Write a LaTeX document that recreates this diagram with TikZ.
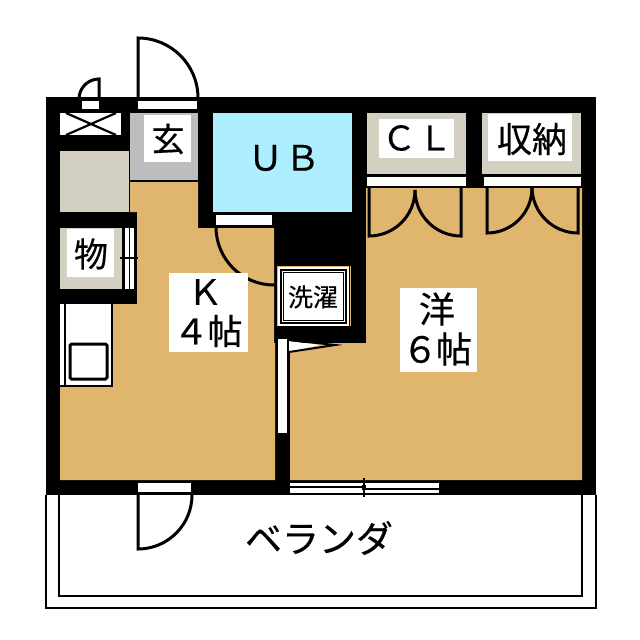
\documentclass[tikz,border=0pt]{standalone}
\usepackage{fontspec}
\setmainfont[FakeBold=0.4]{Noto Sans CJK JP}
\definecolor{tan}{HTML}{E0B56E}
\definecolor{beige}{HTML}{D3D0C2}
\definecolor{grayf}{HTML}{BDBDBD}
\definecolor{cyanf}{HTML}{ADEEFF}
\tikzset{
  wall/.style={fill=black,draw=none},
  ln/.style={draw=black,line width=3pt},
  wh/.style={fill=white,draw=none},
  lab/.style={inner sep=0pt,align=center,font=\fontsize{#1}{#1}\selectfont},
  lab/.default=32
}
\begin{document}
\begin{tikzpicture}[x=1pt,y=-1pt]
\useasboundingbox (0,0) rectangle (640,640);
\fill[white] (0,0) rectangle (640,640);
% balcony
\draw[ln,line width=2.6pt] (46,495) -- (46,608) -- (596,608) -- (596,495);
\draw[ln,line width=2.6pt] (59,495) -- (59,596) -- (582,596) -- (582,495);
% building
\fill[wall] (46,97) rectangle (596,495);
% rooms
\fill[tan] (130,182) -- (198,182) -- (198,228) -- (274,228) -- (274,343) -- (275,343) -- (275,480) -- (60,480) -- (60,304) -- (137,304) -- (137,212) -- (130,212) -- cycle;
\fill[tan] (366,188) -- (582,188) -- (582,480) -- (290,480) -- (290,343) -- (366,343) -- cycle;
\fill[cyanf] (213,113) rectangle (352,212);
\fill[grayf] (130,113) rectangle (198,180);
\fill[beige] (60,151) rectangle (129,212);
\fill[beige] (60,228) rectangle (122,289);
\fill[beige] (367,113) rectangle (466,174);
\fill[beige] (482,113) rectangle (581,174);
% storage strips
\fill[wh] (367,177) rectangle (466,186);
\fill[wh] (484,177) rectangle (581,186);
% meter box
\fill[wh] (60,113) rectangle (121,135);
\draw[ln,line width=2.2pt] (66,113) -- (116,135) (116,113) -- (66,135);
% front door
\fill[wh] (138,101) rectangle (197,109);
\draw[ln] (138,97) -- (138,38) arc[start angle=-90,end angle=0,radius=60] -- (198,97);
% small door
\fill[wh] (82,101) rectangle (99,109);
\draw[ln] (99,97) -- (99,79) arc[start angle=-90,end angle=-180,radius=20];
% UB door
\fill[wh] (216,215) rectangle (272,225);
\draw[ln] (216,227) arc[start angle=180,end angle=90,radius=58];
% 物 sliding door
\fill[wh] (123,228) rectangle (135,289);
\draw[ln,line width=1.6pt] (124,228) -- (124,289) (129.5,228) -- (129.5,289) (134.5,228) -- (134.5,289);
\draw[ln,line width=2.4pt] (120,258) -- (138,258);
% kitchen
\fill[wh] (60,304) rectangle (112,387);
\draw[ln,line width=2pt] (65,304) -- (65,386) (60,386) -- (112,386) -- (112,304);
\draw[ln,rounded corners=1.5pt] (70,344) rectangle (107,379);
% washer
\fill[tan] (277,266) rectangle (351,326);
\fill[wh] (278,267) rectangle (349,326);
\fill[wall] (349,266) rectangle (350,326);
\draw[ln,line width=2pt] (281,270) rectangle (346,323);
\draw[ln,line width=1.4pt] (283.5,272.5) rectangle (343.5,320.5);
% inner wall strip and door triangle
\fill[wh] (278,339) rectangle (287,433);
\fill[wh] (289,341) -- (289,352) -- (320,345) -- cycle;
\draw[ln,line width=2pt] (289,340) -- (335,345) -- (289,352);
% closet doors
\draw[ln] (369,188) -- (369,236) arc[start angle=90,end angle=0,radius=46];
\draw[ln] (461,188) -- (461,236) arc[start angle=90,end angle=180,radius=46];
\draw[ln] (487,188) -- (487,233) arc[start angle=90,end angle=0,radius=45];
\draw[ln] (578,188) -- (578,233) arc[start angle=90,end angle=180,radius=46];
% bottom door
\fill[wh] (138,483) rectangle (191,492);
\draw[ln] (138,495) -- (138,549) arc[start angle=90,end angle=0,radius=54];
% window
\fill[wh] (290,483) rectangle (439,493);
\draw[ln,line width=2pt] (290,487) -- (364,487) (364,488.5) -- (439,488.5);
\draw[ln,line width=2.4pt] (364,478) -- (364,497);
\fill[black] (362,485) rectangle (366,490);
% label plates
\fill[wh] (144,115) rectangle (191,162);
\fill[wh] (67,229) rectangle (114,277);
\fill[wh] (379,119) rectangle (454,158);
\fill[wh] (488,114) rectangle (572,161);
\fill[wh] (169,273) rectangle (248,352);
\fill[wh] (400,288) rectangle (477,372);
% labels
\node[lab=33] (genkan) at (168,139) {玄};
\node[lab=34] (mono) at (91,254) {物};
\node[lab=35] (ub) at (284,158) {Ｕ\kern2ptＢ};
\node[lab=34] (cl) at (417,138) {Ｃ\kern2ptＬ};
\node[lab=35] (shuno) at (532,139) {収納};
\node[lab=25] (sentaku) at (313,297) {洗濯};
\node[lab=35] (k) at (205,292) {Ｋ};
\node[lab=35] (k4) at (208,331) {４\kern-1pt帖};
\node[lab=36] (you) at (437,309) {洋};
\node[lab=36] (you6) at (437,349) {６\kern-2pt帖};
\node[lab=37] (ver) at (319,538) {ベランダ};
\end{tikzpicture}
\end{document}
